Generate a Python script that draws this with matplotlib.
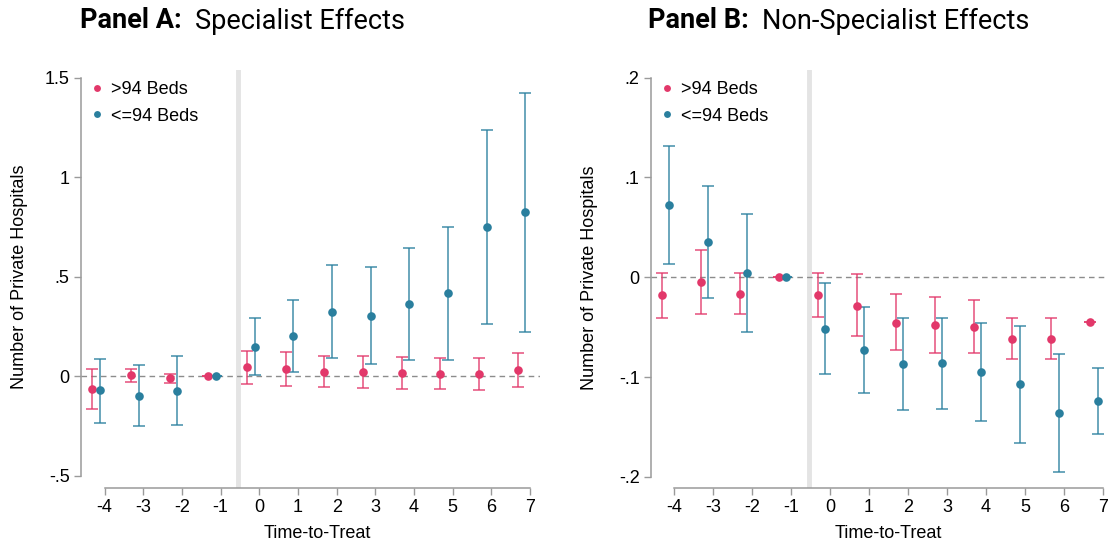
import numpy as np
import matplotlib
matplotlib.use("Agg")
import matplotlib.pyplot as plt

plt.rcParams['font.family'] = ['Liberation Sans', 'DejaVu Sans']

times = [-4, -3, -2, -1, 0, 1, 2, 3, 4, 5, 6, 7]
xtick_labels = ['-4', '-3', '-2', '-1', '0', '1', '2', '3', '4', '5', '6', '7']

# Panel A: specialist effects
a_big_est = [-0.064, 0.006, -0.009, 0, 0.046, 0.038, 0.024, 0.021, 0.018, 0.014, 0.013, 0.033]
a_big_lo = [-0.165, -0.028, -0.031, 0, -0.038, -0.046, -0.053, -0.056, -0.061, -0.064, -0.068, -0.053]
a_big_hi = [0.036, 0.036, 0.014, 0, 0.130, 0.122, 0.105, 0.101, 0.098, 0.095, 0.091, 0.118]
a_small_est = [-0.069, -0.098, -0.071, 0, 0.150, 0.204, 0.326, 0.306, 0.364, 0.418, 0.751, 0.825]
a_small_lo = [-0.232, -0.249, -0.244, 0, 0.008, 0.023, 0.091, 0.063, 0.081, 0.081, 0.264, 0.224]
a_small_hi = [0.090, 0.056, 0.101, 0, 0.296, 0.384, 0.562, 0.550, 0.647, 0.753, 1.239, 1.426]
a_yticks = [-0.5, 0, 0.5, 1, 1.5]
a_ytick_labels = ['-.5', '0', '.5', '1', '1.5']

# Panel B: non-specialist effects
b_big_est = [-0.018, -0.0047, -0.0164, 0, -0.018, -0.0284, -0.0455, -0.0475, -0.0495, -0.0618, -0.0618, -0.0445]
b_big_lo = [-0.041, -0.037, -0.037, 0, -0.040, -0.059, -0.073, -0.0755, -0.0762, -0.082, -0.082, -0.0445]
b_big_hi = [0.0043, 0.0274, 0.0043, 0, 0.0043, 0.003, -0.017, -0.0194, -0.0228, -0.041, -0.041, -0.0445]
b_small_est = [0.0725, 0.0357, 0.0043, 0, -0.0518, -0.0725, -0.0869, -0.0862, -0.0952, -0.107, -0.136, -0.124]
b_small_lo = [0.0136, -0.0204, -0.0545, 0, -0.0972, -0.116, -0.133, -0.1316, -0.144, -0.1656, -0.195, -0.157]
b_small_hi = [0.132, 0.0915, 0.063, 0, -0.0057, -0.0294, -0.0405, -0.0405, -0.0461, -0.0488, -0.0768, -0.0909]
b_yticks = [-0.2, -0.1, 0, 0.1, 0.2]
b_ytick_labels = ['-.2', '-.1', '0', '.1', '.2']

series_labels = ['>94 Beds', '<=94 Beds']
RED = '#E2386A'
BLUE = '#2A7F9E'
AXIS_GRAY = '#9a9a9a'
FS = 13

W, H = 1110, 544
fig = plt.figure(figsize=(W / 100, H / 100), dpi=100)


def make_axes(left_px, right_px, bottom_px, top_px):
    return fig.add_axes([left_px / W, 1 - bottom_px / H,
                         (right_px - left_px) / W, (bottom_px - top_px) / H])


def draw_panel(ax, big, small, yticks, ylabels, xlim, ylim):
    t = np.array(times, dtype=float)
    for (est, lo, hi), off, col, lab in [(big, -0.32, RED, series_labels[0]),
                                         (small, -0.12, BLUE, series_labels[1])]:
        est = np.array(est)
        yerr = [est - np.array(lo), np.array(hi) - est]
        ax.errorbar(t + off, est, yerr=yerr, fmt='none', ecolor=col, alpha=0.75,
                    elinewidth=1.3, capsize=4, capthick=1.3, zorder=3)
        ax.plot(t + off, est, 'o', color=col, markersize=6.2, markeredgewidth=0,
                zorder=4, label=lab)

    ax.set_xlim(*xlim)
    ax.set_ylim(*ylim)
    ax.axhline(0, color='#8c8c8c', lw=1.0, ls=(0, (4, 3)), zorder=1)
    ax.axvline(-0.54, color='#e4e4e4', lw=3.5, zorder=0)

    for s in ['top', 'right']:
        ax.spines[s].set_visible(False)
    for s in ['left', 'bottom']:
        ax.spines[s].set_color(AXIS_GRAY)
        ax.spines[s].set_linewidth(1.1)
    ax.spines['left'].set_bounds(yticks[0], yticks[-1])
    ax.spines['bottom'].set_bounds(times[0], times[-1])

    ax.set_xticks(times)
    ax.set_xticklabels(xtick_labels)
    ax.set_yticks(yticks)
    ax.set_yticklabels(ylabels)
    ax.tick_params(axis='both', colors=AXIS_GRAY, labelcolor='black',
                   labelsize=FS, length=5, width=1.0, pad=3)

    fx = (np.mean([times[0], times[-1]]) - xlim[0]) / (xlim[1] - xlim[0])
    fy = (np.mean([yticks[0], yticks[-1]]) - ylim[0]) / (ylim[1] - ylim[0])
    ax.set_xlabel('Time-to-Treat', fontsize=FS)
    ax.xaxis.set_label_coords(fx, -0.088)
    ax.set_ylabel('Number of Private Hospitals', fontsize=FS)
    ax.yaxis.set_label_coords(-0.115, fy)

    ax.legend(loc='upper left', bbox_to_anchor=(0.0, 1.0), frameon=False,
              fontsize=FS, markerscale=0.8, handlelength=0.6,
              handletextpad=0.5, labelspacing=0.55, borderaxespad=0.3,
              borderpad=0.3)
    ax.set_facecolor('none')


axA = make_axes(80.7, 540, 488.3, 70)
draw_panel(axA, (a_big_est, a_big_lo, a_big_hi),
           (a_small_est, a_small_lo, a_small_hi),
           a_yticks, a_ytick_labels, (-4.62, 7.26), (-0.562, 1.540))

axB = make_axes(650.7, 1108, 488.3, 70)
draw_panel(axB, (b_big_est, b_big_lo, b_big_hi),
           (b_small_est, b_small_lo, b_small_hi),
           b_yticks, b_ytick_labels, (-4.60, 7.13), (-0.2114, 0.2077))

# titles: bold "Panel X:" followed by regular text
fig.canvas.draw()
renderer = fig.canvas.get_renderer()
for x_px, head, rest in [(80, 'Panel A:', 'Specialist Effects'),
                         (648, 'Panel B:', 'Non-Specialist Effects')]:
    t1 = fig.text(x_px / W, 1 - 21 / H, head, fontsize=19.5, fontweight='bold',
                  family=['Roboto', 'DejaVu Sans'], va='center', ha='left')
    bb = t1.get_window_extent(renderer)
    fig.text((bb.x1 + 13) / W, 1 - 21 / H, rest, fontsize=19.5,
             family=['Roboto', 'DejaVu Sans'], va='center', ha='left')

fig.savefig('out.png', dpi=100)
